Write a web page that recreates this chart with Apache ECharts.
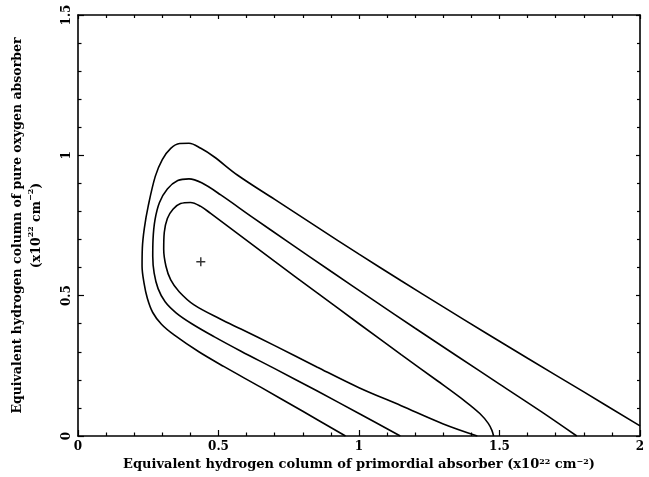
<!DOCTYPE html>
<html>
<head>
<meta charset="utf-8">
<script src="https://cdn.jsdelivr.net/npm/echarts@6/dist/echarts.min.js"></script>
<style>
html,body{margin:0;padding:0;background:#fff;}
#chart{width:649px;height:477px;}
</style>
</head>
<body>
<div id="chart"></div>
<script>
// Tick labels
var xTicks = [0, 0.5, 1, 1.5, 2];
var yTicks = [0, 0.5, 1, 1.5];

// Contours: [primordial NH, oxygen NH] in 1e22 cm^-2
var outerContour = [
  [0.952,0],[0.80,0.088],[0.65,0.174],[0.52,0.247],[0.43,0.300],[0.342,0.360],
  [0.297,0.398],[0.266,0.440],[0.247,0.490],[0.235,0.545],[0.228,0.605],[0.229,0.670],
  [0.236,0.740],[0.250,0.820],[0.275,0.925],[0.300,0.985],[0.330,1.025],[0.362,1.042],
  [0.395,1.043],[0.437,1.025],[0.484,0.995],[0.567,0.930],[0.70,0.843],[0.85,0.745],
  [1.0,0.648],[1.15,0.553],[1.30,0.460],[1.45,0.368],[1.60,0.277],[1.80,0.157],[2.0,0.036]
];
var middleContour = [
  [1.147,0],[1.0,0.080],[0.85,0.161],[0.70,0.240],[0.58,0.302],[0.484,0.354],
  [0.405,0.400],[0.350,0.438],[0.310,0.478],[0.285,0.525],[0.271,0.580],[0.266,0.640],
  [0.267,0.700],[0.274,0.770],[0.290,0.832],[0.318,0.880],[0.355,0.910],[0.395,0.916],
  [0.440,0.902],[0.508,0.859],[0.62,0.780],[0.75,0.690],[0.90,0.587],[1.05,0.485],
  [1.20,0.384],[1.35,0.284],[1.50,0.185],[1.65,0.086],[1.775,0]
];
var innerContour = [
  [1.421,0],[1.30,0.043],[1.15,0.108],[1.0,0.172],[0.85,0.246],[0.70,0.322],[0.58,0.381],
  [0.508,0.416],[0.413,0.467],[0.360,0.514],[0.330,0.556],[0.313,0.605],[0.305,0.665],
  [0.307,0.725],[0.318,0.775],[0.338,0.808],[0.365,0.828],[0.400,0.832],[0.437,0.818],
  [0.472,0.793],[0.567,0.722],[0.70,0.622],[0.85,0.511],[1.0,0.400],[1.15,0.290],
  [1.28,0.196],[1.38,0.122],[1.43,0.080],[1.46,0.045],[1.473,0.020],[1.479,0]
];
var bestFit = [[0.437, 0.621]];

var FONT = '"DejaVu Serif", "Liberation Serif", serif';
var chart = echarts.init(document.getElementById('chart'), null, {renderer:'canvas'});

function fmt(list){ return function(v){ for (var i=0;i<list.length;i++){ if (Math.abs(list[i]-v)<1e-9) return String(list[i]); } return ''; }; }

var lineStyle = {color:'#000', width:1.6};
var baseAxis = {
  type:'value', splitLine:{show:false},
  axisLine:{show:true, onZero:false, lineStyle:{color:'#000', width:1.6}},
  axisTick:{show:true, inside:true, length:6, lineStyle:{color:'#000', width:1.2}},
  minorTick:{show:true, splitNumber:5, length:3.5, lineStyle:{color:'#000', width:1.2}},
  minorSplitLine:{show:false}
};
function ax(extra){ return Object.assign({}, JSON.parse(JSON.stringify(baseAxis)), extra); }

var txt = {fontFamily:FONT, fontWeight:'bold', fontSize:13, color:'#000'};
var sup = {fontFamily:FONT, fontWeight:'bold', fontSize:8, color:'#000', verticalAlign:'top', padding:[0,0,6,0]};

var option = {
  animation:false,
  backgroundColor:'#fff',
  grid:{left:77, right:9, top:15, bottom:41, containLabel:false},
  xAxis:[
    ax({position:'bottom', min:0, max:2, interval:0.5,
      axisLabel:{show:true, margin:5, formatter:fmt(xTicks), fontFamily:FONT, fontWeight:'bold', fontSize:12, color:'#000'},
      name:'{a|Equivalent hydrogen column of primordial absorber (x10}{s|22}{a| cm}{s|−2}{a|)}',
      nameLocation:'middle', nameGap:22,
      nameTextStyle:{rich:{a:txt, s:sup}}
    }),
    ax({position:'top', min:0, max:2, interval:0.5, axisLabel:{show:false},
      axisTick:{show:true, inside:true, length:4, lineStyle:{color:'#000', width:1.2}},
      minorTick:{show:true, splitNumber:5, length:3, lineStyle:{color:'#000', width:1.2}}})
  ],
  yAxis:[
    ax({position:'left', min:0, max:1.5, interval:0.5,
      axisLabel:{show:true, rotate:90, margin:5, formatter:fmt(yTicks), fontFamily:FONT, fontWeight:'bold', fontSize:12, color:'#000'},
      name:'{a|Equivalent hydrogen column of pure oxygen absorber}\n{a|(x10}{s|22}{a| cm}{s|−2}{a|)}',
      nameLocation:'middle', nameGap:32, nameRotate:90,
      nameTextStyle:{lineHeight:19, rich:{a:Object.assign({lineHeight:19}, txt, {fontSize:12.5}), s:sup}}
    }),
    ax({position:'right', min:0, max:1.5, interval:0.5, axisLabel:{show:false},
      axisTick:{show:true, inside:true, length:4, lineStyle:{color:'#000', width:1.2}},
      minorTick:{show:true, splitNumber:5, length:3, lineStyle:{color:'#000', width:1.2}}})
  ],
  series:[
    {type:'line', data:outerContour, showSymbol:false, smooth:0.35, lineStyle:lineStyle, silent:true, clip:true},
    {type:'line', data:middleContour, showSymbol:false, smooth:0.35, lineStyle:lineStyle, silent:true, clip:true},
    {type:'line', data:innerContour, showSymbol:false, smooth:0.35, lineStyle:lineStyle, silent:true, clip:true},
    {type:'scatter', data:bestFit, symbol:'path://M4.2,0H5.8V4.2H10V5.8H5.8V10H4.2V5.8H0V4.2H4.2Z', symbolSize:9,
     itemStyle:{color:'#000'}, silent:true}
  ]
};
chart.setOption(option);
</script>
</body>
</html>
